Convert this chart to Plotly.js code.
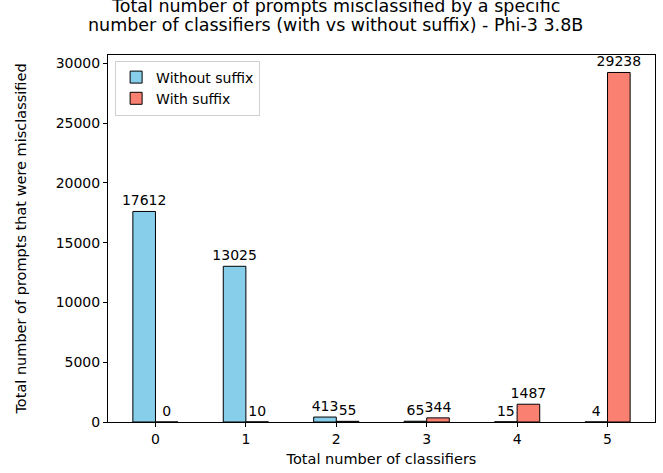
<!DOCTYPE html>
<html><head><meta charset="utf-8">
<script src="https://cdn.plot.ly/plotly-3.0.1.min.js"></script>
<style>html,body{margin:0;padding:0;background:#fff;}#chart{width:663px;height:473px;}</style>
</head><body><div id="chart"></div>
<script>
const categories = [0, 1, 2, 3, 4, 5];
const withoutSuffix = [17612, 13025, 413, 65, 15, 4];
const withSuffix = [0, 10, 55, 344, 1487, 29238];
const yTicks = [0, 5000, 10000, 15000, 20000, 25000, 30000];
const titleLines = ['Total number of prompts misclassified by a specific',
                    'number of classifiers (with vs without suffix) - Phi-3 3.8B'];

const font = 'DejaVu Sans, sans-serif';
const traces = [
  {type:'bar', name:'Without suffix', x:categories, y:withoutSuffix, width:0.25, offset:-0.25,
   marker:{color:'#87CEEB', line:{color:'#000', width:1}},
   text:withoutSuffix.map(String), textposition:'outside', constraintext:'none', cliponaxis:false,
   textfont:{family:font, size:14, color:'#000'}},
  {type:'bar', name:'With suffix', x:categories, y:withSuffix, width:0.25, offset:0,
   marker:{color:'#FA8072', line:{color:'#000', width:1}},
   text:withSuffix.map(String), textposition:'outside', constraintext:'none', cliponaxis:false,
   textfont:{family:font, size:14, color:'#000'}}
];
const layout = {
  width:663, height:473, barmode:'overlay',
  margin:{l:108, r:8, t:55, b:51},
  paper_bgcolor:'#fff', plot_bgcolor:'#fff',
  font:{family:font, size:14, color:'#000'},
  annotations:[
    {text:titleLines[0], xref:'paper', yref:'paper', x:0.415, y:1.1335, xanchor:'center', yanchor:'middle',
     showarrow:false, font:{family:font, size:17.5, color:'#000'}},
    {text:titleLines[1], xref:'paper', yref:'paper', x:0.415, y:1.0817, xanchor:'center', yanchor:'middle',
     showarrow:false, font:{family:font, size:17.5, color:'#000'}}
  ],
  xaxis:{range:[-0.525, 5.525], tickvals:categories, ticktext:categories.map(String), showgrid:false, zeroline:false,
    showline:true, linecolor:'#000', linewidth:1, mirror:true, ticks:'outside', ticklen:4, tickcolor:'#000',
    tickfont:{size:14}, title:{text:'Total number of classifiers', font:{size:14.5}, standoff:8}},
  yaxis:{range:[0, 30700], tickvals:yTicks, ticktext:yTicks.map(String), showgrid:false, zeroline:false,
    showline:true, linecolor:'#000', linewidth:1, mirror:true, ticks:'outside', ticklen:4, tickcolor:'#000',
    tickfont:{size:14}, title:{text:'Total number of prompts that were misclassified', font:{size:14.5}, standoff:25}},
  legend:{x:0.013, y:0.985, xanchor:'left', yanchor:'top', bgcolor:'rgba(255,255,255,0.8)', bordercolor:'#d0d0d0', borderwidth:1,
    font:{size:14}, traceorder:'normal', tracegroupgap:0},
  showlegend:true
};
Plotly.newPlot('chart', traces, layout, {displayModeBar:false, staticPlot:true});
</script></body></html>
